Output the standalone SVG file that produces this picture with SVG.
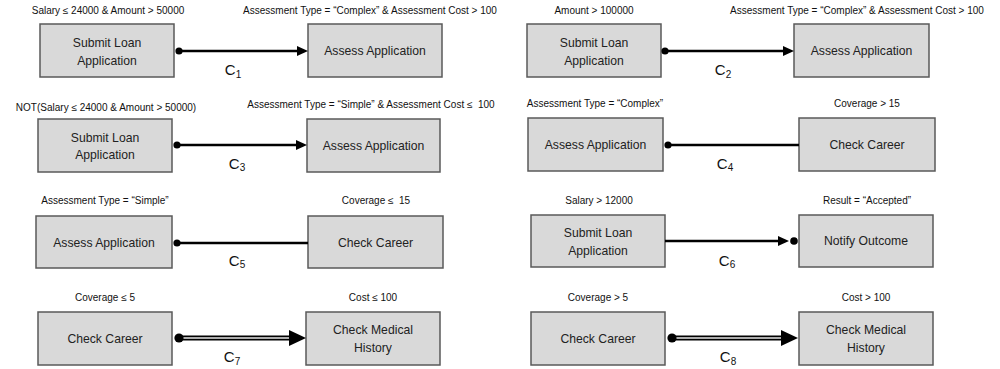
<svg xmlns="http://www.w3.org/2000/svg" width="1000" height="369" viewBox="0 0 1000 369">
  <style>
    .box { fill: #d9d9d9; stroke: #595959; stroke-width: 1.5; }
    .lbl { font-family: "Liberation Sans", Arial, sans-serif; font-size: 12.2px; fill: #222; text-anchor: middle; }
    .cond { font-family: "Liberation Sans", Arial, sans-serif; font-size: 10px; fill: #111; text-anchor: middle; }
    .cname { font-family: "Liberation Sans", Arial, sans-serif; font-size: 15px; fill: #111; text-anchor: middle; }
    .sub { font-size: 10px; }
    .wire { stroke: #000; stroke-width: 2.4; fill: none; }
    .wire2 { stroke: #000; stroke-width: 5; fill: none; }
    .wire2in { stroke: #e6e6e6; stroke-width: 1.6; fill: none; }
    .dot { fill: #000; }
    .head { fill: #000; }
  </style>
  <rect width="1000" height="369" fill="#fff"/>

  <!-- condition labels -->
  <g id="conditions">
    <text class="cond" x="108" y="13.5">Salary ≤ 24000 &amp; Amount &gt; 50000</text>
    <text class="cond" x="370" y="13.5">Assessment Type = “Complex” &amp; Assessment Cost &gt; 100</text>
    <text class="cond" x="594" y="13.5">Amount &gt; 100000</text>
    <text class="cond" x="857" y="13.5">Assessment Type = “Complex” &amp; Assessment Cost &gt; 100</text>
    <text class="cond" x="106" y="110.5">NOT(Salary ≤ 24000 &amp; Amount &gt; 50000)</text>
    <text class="cond" x="371" y="107.5">Assessment Type = “Simple” &amp; Assessment Cost ≤&#160; 100</text>
    <text class="cond" x="595" y="107">Assessment Type = “Complex”</text>
    <text class="cond" x="867" y="107">Coverage &gt; 15</text>
    <text class="cond" x="105" y="203.5">Assessment Type = “Simple”</text>
    <text class="cond" x="376" y="203.5">Coverage ≤&#160; 15</text>
    <text class="cond" x="599" y="203.5">Salary &gt; 12000</text>
    <text class="cond" x="867" y="203.5">Result = “Accepted”</text>
    <text class="cond" x="105" y="300.5">Coverage ≤ 5</text>
    <text class="cond" x="373" y="300.5">Cost ≤ 100</text>
    <text class="cond" x="598" y="300.5">Coverage &gt; 5</text>
    <text class="cond" x="866" y="300.5">Cost &gt; 100</text>
  </g>

  <!-- row 1 -->
  <g id="submit1"><rect class="box" x="40" y="24" width="134" height="53"/><text class="lbl" x="107" y="47">Submit Loan</text><text class="lbl" x="107" y="64.5">Application</text></g>
  <g id="assess1"><rect class="box" x="308" y="24" width="134" height="53"/><text class="lbl" x="375" y="55">Assess Application</text></g>
  <g id="submit2"><rect class="box" x="527" y="24" width="134" height="53"/><text class="lbl" x="594" y="47">Submit Loan</text><text class="lbl" x="594" y="64.5">Application</text></g>
  <g id="assess2"><rect class="box" x="794" y="24" width="135" height="53"/><text class="lbl" x="861.5" y="55">Assess Application</text></g>

  <!-- row 2 -->
  <g id="submit3"><rect class="box" x="38" y="119" width="134" height="53"/><text class="lbl" x="105" y="141.5">Submit Loan</text><text class="lbl" x="105" y="159">Application</text></g>
  <g id="assess3"><rect class="box" x="307" y="119" width="133" height="53"/><text class="lbl" x="373.5" y="149.5">Assess Application</text></g>
  <g id="assess4"><rect class="box" x="528" y="118" width="135" height="53"/><text class="lbl" x="595.5" y="149">Assess Application</text></g>
  <g id="career4"><rect class="box" x="799" y="118" width="136" height="53"/><text class="lbl" x="867" y="149">Check Career</text></g>

  <!-- row 3 -->
  <g id="assess5"><rect class="box" x="36" y="216" width="136" height="52"/><text class="lbl" x="104" y="246.5">Assess Application</text></g>
  <g id="career5"><rect class="box" x="308" y="216" width="135" height="52"/><text class="lbl" x="375.5" y="246.5">Check Career</text></g>
  <g id="submit6"><rect class="box" x="531" y="215" width="134" height="52"/><text class="lbl" x="598" y="237">Submit Loan</text><text class="lbl" x="598" y="254.5">Application</text></g>
  <g id="notify6"><rect class="box" x="799" y="215" width="134" height="52"/><text class="lbl" x="866" y="245">Notify Outcome</text></g>

  <!-- row 4 -->
  <g id="career7"><rect class="box" x="38" y="312" width="134" height="53"/><text class="lbl" x="105" y="342.5">Check Career</text></g>
  <g id="medical7"><rect class="box" x="306" y="312" width="134" height="53"/><text class="lbl" x="373" y="334">Check Medical</text><text class="lbl" x="373" y="351.5">History</text></g>
  <g id="career8"><rect class="box" x="531" y="312" width="134" height="53"/><text class="lbl" x="598" y="342.5">Check Career</text></g>
  <g id="medical8"><rect class="box" x="799" y="312" width="134" height="53"/><text class="lbl" x="866" y="334">Check Medical</text><text class="lbl" x="866" y="351.5">History</text></g>

  <!-- connectors -->
  <g id="connectors">
    <!-- C1 -->
    <line class="wire" x1="179" y1="51" x2="298" y2="51"/>
    <circle class="dot" cx="179" cy="51" r="3.6"/>
    <polygon class="head" points="297,46 308,51 297,56"/>
    <text class="cname" x="233" y="75">C<tspan class="sub" dy="2.5">1</tspan></text>
    <!-- C2 -->
    <line class="wire" x1="665" y1="51" x2="784" y2="51"/>
    <circle class="dot" cx="665" cy="51" r="3.6"/>
    <polygon class="head" points="783,46 794,51 783,56"/>
    <text class="cname" x="723" y="75">C<tspan class="sub" dy="2.5">2</tspan></text>
    <!-- C3 -->
    <line class="wire" x1="177" y1="145" x2="297" y2="145"/>
    <circle class="dot" cx="177" cy="145" r="3.6"/>
    <polygon class="head" points="296,140 307,145 296,150"/>
    <text class="cname" x="237" y="168.5">C<tspan class="sub" dy="2.5">3</tspan></text>
    <!-- C4 -->
    <line class="wire" x1="668" y1="145" x2="799" y2="145"/>
    <circle class="dot" cx="668" cy="145" r="3.6"/>
    <text class="cname" x="725" y="168.5">C<tspan class="sub" dy="2.5">4</tspan></text>
    <!-- C5 -->
    <line class="wire" x1="177" y1="243" x2="308" y2="243"/>
    <circle class="dot" cx="177" cy="243" r="3.6"/>
    <text class="cname" x="237" y="265.5">C<tspan class="sub" dy="2.5">5</tspan></text>
    <!-- C6 -->
    <line class="wire" x1="665" y1="241" x2="779" y2="241"/>
    <polygon class="head" points="778,236 789,241 778,246"/>
    <circle class="dot" cx="794" cy="241" r="3.8"/>
    <text class="cname" x="727" y="265.5">C<tspan class="sub" dy="2.5">6</tspan></text>
    <!-- C7 -->
    <line class="wire2" x1="179" y1="338" x2="291" y2="338"/>
    <line class="wire2in" x1="183" y1="338" x2="291" y2="338"/>
    <circle class="dot" cx="179" cy="338" r="4.6"/>
    <polygon class="head" points="289,330 306,338 289,346"/>
    <text class="cname" x="232" y="362">C<tspan class="sub" dy="2.5">7</tspan></text>
    <!-- C8 -->
    <line class="wire2" x1="672" y1="338" x2="783" y2="338"/>
    <line class="wire2in" x1="676" y1="338" x2="783" y2="338"/>
    <circle class="dot" cx="672" cy="338" r="4.6"/>
    <polygon class="head" points="781,330 798,338 781,346"/>
    <text class="cname" x="728" y="362">C<tspan class="sub" dy="2.5">8</tspan></text>
  </g>
</svg>
